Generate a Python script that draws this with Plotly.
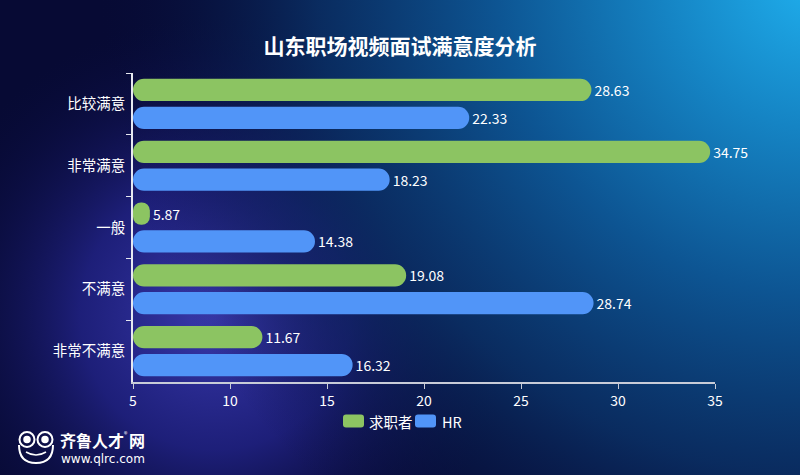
import base64
import plotly.graph_objects as go

# ---- data ----
categories = ["比较满意", "非常满意", "一般", "不满意", "非常不满意"]
seekers = [28.63, 34.75, 5.87, 19.08, 11.67]   # 求职者
hr = [22.33, 18.23, 14.38, 28.74, 16.32]        # HR
series_names = ["求职者", "HR"]
x_ticks = [5, 10, 15, 20, 25, 30, 35]
AXIS_MIN, AXIS_MAX = 5, 35

FONT = "Noto Sans CJK SC, Noto Sans, sans-serif"
GREEN = "#8cc462"
BLUE = "#5195f8"
colors = [GREEN, BLUE]

# ---- background (SVG gradient image) ----
svg = """<svg xmlns='http://www.w3.org/2000/svg' width='800' height='475' viewBox='0 0 800 475' preserveAspectRatio='none'>
<defs>
<radialGradient id='tr' cx='820' cy='-30' r='720' gradientUnits='userSpaceOnUse'>
<stop offset='0' stop-color='#20b2f0'/>
<stop offset='0.22' stop-color='#1584c4'/>
<stop offset='0.45' stop-color='#0d5593'/>
<stop offset='0.7' stop-color='#0a2f64' stop-opacity='0.9'/>
<stop offset='1' stop-color='#080e3c' stop-opacity='0'/>
</radialGradient>
<radialGradient id='gl' cx='215' cy='315' r='300' gradientUnits='userSpaceOnUse'>
<stop offset='0' stop-color='#3a3aae'/>
<stop offset='0.45' stop-color='#23248a' stop-opacity='0.8'/>
<stop offset='1' stop-color='#0a0c40' stop-opacity='0'/>
</radialGradient>
</defs>
<rect width='800' height='475' fill='#070a34'/>
<rect width='800' height='475' fill='url(#gl)'/>
<rect width='800' height='475' fill='url(#tr)'/>
</svg>"""
bg_uri = "data:image/svg+xml;base64," + base64.b64encode(svg.encode("utf-8")).decode()

ML, MR, MT, MB = 133, 85, 73, 93
PW, PH = 800 - ML - MR, 475 - MT - MB


def px(x):
    return (x - ML) / PW


def py(y):
    return (475 - MB - y) / PH


fig = go.Figure()
for name, vals, color in zip(series_names, [seekers, hr], colors):
    fig.add_trace(go.Bar(
        name=name,
        y=categories,
        x=[v - AXIS_MIN for v in vals],
        base=AXIS_MIN,
        orientation="h",
        marker=dict(color=color, line=dict(width=0)),
        text=[f"{v:.2f}" for v in vals],
        texttemplate="%{text}",
        textposition="outside",
        cliponaxis=False,
        textfont=dict(color="white", size=14, family=FONT),
        showlegend=False,
    ))

fig.update_layout(
    width=800, height=475,
    margin=dict(l=ML, r=MR, t=MT, b=MB, autoexpand=False),
    paper_bgcolor="#070a34",
    plot_bgcolor="rgba(0,0,0,0)",
    barmode="group",
    bargap=0.1,
    bargroupgap=0.2,
    barcornerradius="50%",
    font=dict(family=FONT, color="white"),
    title=dict(text="山东职场视频面试满意度分析", x=0.5, xref="container", xanchor="center",
               y=1 - 47 / 475, yref="container", yanchor="middle",
               font=dict(size=21, color="white", family=FONT, weight="bold")),
    images=[dict(source=bg_uri, xref="paper", yref="paper", x=-ML / PW, y=1 + MT / PH,
                 sizex=800 / PW, sizey=475 / PH, xanchor="left", yanchor="top",
                 sizing="stretch", layer="below")],
    showlegend=False,
)

fig.update_xaxes(range=[AXIS_MIN, AXIS_MAX], tickvals=x_ticks, showgrid=False, zeroline=False,
                 showline=True, linecolor="#c8ccd8", linewidth=1.5,
                 ticks="outside", ticklen=5, tickcolor="#c8ccd8",
                 tickfont=dict(size=14, color="white", family=FONT))
fig.update_yaxes(categoryorder="array", categoryarray=categories, autorange="reversed",
                 showgrid=False, showline=True, linecolor="#e6e8f0", linewidth=1.5,
                 ticks="outside", tickson="boundaries", ticklen=5, tickcolor="#e6e8f0",
                 ticklabelstandoff=3,
                 tickfont=dict(size=14.5, color="white", family=FONT))

# ---- custom legend (rounded swatches + names) ----
legend_y = 421
legend_items = [(343, 367), (415, 440)]  # swatch left, text left (pixels)
for (sx, tx), name, color in zip(legend_items, series_names, colors):
    x0, x1, y0, y1, r = sx, sx + 21, legend_y - 6.5, legend_y + 6.5, 3
    path = (f"M {px(x0 + r)},{py(y0)} L {px(x1 - r)},{py(y0)} Q {px(x1)},{py(y0)} {px(x1)},{py(y0 + r)} "
            f"L {px(x1)},{py(y1 - r)} Q {px(x1)},{py(y1)} {px(x1 - r)},{py(y1)} "
            f"L {px(x0 + r)},{py(y1)} Q {px(x0)},{py(y1)} {px(x0)},{py(y1 - r)} "
            f"L {px(x0)},{py(y0 + r)} Q {px(x0)},{py(y0)} {px(x0 + r)},{py(y0)} Z")
    fig.add_shape(type="path", xref="paper", yref="paper", path=path,
                  fillcolor=color, line=dict(width=0))
    fig.add_annotation(text=name, xref="paper", yref="paper", x=px(tx), y=py(legend_y),
                       xanchor="left", yanchor="middle", showarrow=False,
                       font=dict(size=14.5, color="white", family=FONT))

# ---- logo (bottom-left) ----
logo_col = "white"
fig.add_shape(type="path", xref="paper", yref="paper",
              path=f"M {px(19)},{py(445)} Q {px(19)},{py(463)} {px(36)},{py(463)} Q {px(53)},{py(463)} {px(53)},{py(445)}",
              line=dict(color=logo_col, width=2))
for cx in (27, 45):
    fig.add_shape(type="circle", xref="paper", yref="paper",
                  x0=px(cx - 7.5), x1=px(cx + 7.5), y0=py(447), y1=py(432),
                  line=dict(color=logo_col, width=2))
    fig.add_shape(type="circle", xref="paper", yref="paper",
                  x0=px(cx - 3), x1=px(cx + 3), y0=py(442.5), y1=py(436.5),
                  line=dict(color=logo_col, width=1.5), fillcolor=logo_col)
fig.add_shape(type="path", xref="paper", yref="paper",
              path=f"M {px(26)},{py(452)} Q {px(36)},{py(458)} {px(46)},{py(452)}",
              line=dict(color=logo_col, width=1.5))
fig.add_annotation(text="<b>齐鲁人才</b>", xref="paper", yref="paper",
                   x=px(58), y=py(440), xanchor="left", yanchor="middle", showarrow=False,
                   font=dict(size=16, color="white", family=FONT))
fig.add_annotation(text="®", xref="paper", yref="paper",
                   x=px(125.5), y=py(434), xanchor="center", yanchor="middle", showarrow=False,
                   font=dict(size=7, color="white", family=FONT))
fig.add_annotation(text="<b>网</b>", xref="paper", yref="paper",
                   x=px(127), y=py(440), xanchor="left", yanchor="middle", showarrow=False,
                   font=dict(size=16, color="white", family=FONT))
fig.add_annotation(text="www.qlrc.com", xref="paper", yref="paper",
                   x=px(59), y=py(459), xanchor="left", yanchor="middle", showarrow=False,
                   font=dict(size=12, color="white", family="DejaVu Sans, sans-serif"))

fig.write_html("out.html")
